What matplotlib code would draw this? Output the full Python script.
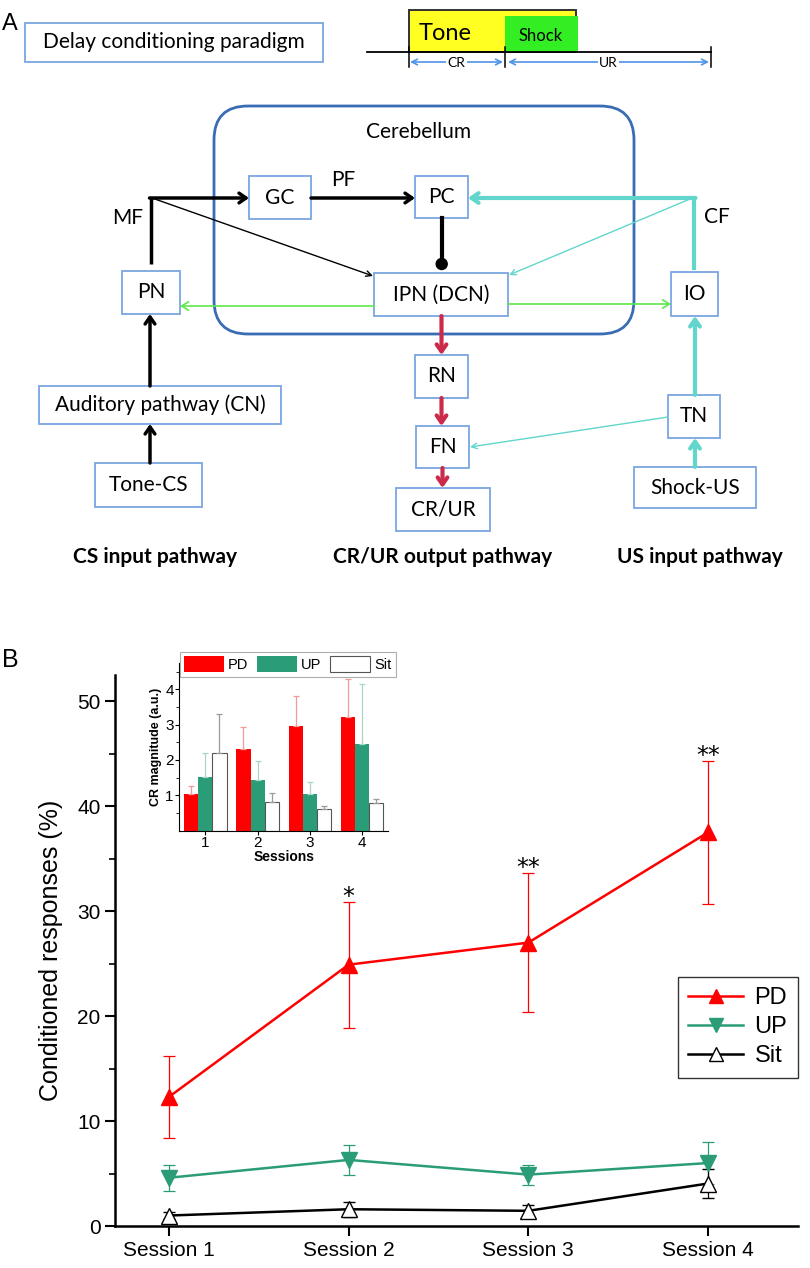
import matplotlib
matplotlib.use('Agg')
import matplotlib.pyplot as plt
from matplotlib.patches import FancyBboxPatch, Rectangle, Circle
from matplotlib.lines import Line2D

# ---- panel B data ----
sessions = [1, 2, 3, 4]
session_labels = ['Session 1', 'Session 2', 'Session 3', 'Session 4']
pd_mean = [12.3, 24.9, 27.0, 37.5]
pd_err = [3.9, 6.0, 6.6, 6.8]
up_mean = [4.6, 6.3, 4.9, 6.0]
up_err = [1.25, 1.4, 0.95, 2.0]
sit_mean = [1.0, 1.6, 1.45, 4.05]
sit_err = [0.3, 0.7, 0.55, 1.4]
stars = ['', '*', '**', '**']

# inset: CR magnitude
inset_pd = [1.04, 2.30, 2.95, 3.21]
inset_pd_err = [0.22, 0.62, 0.87, 1.07]
inset_up = [1.52, 1.44, 1.04, 2.46]
inset_up_err = [0.68, 0.54, 0.35, 1.68]
inset_sit = [2.19, 0.82, 0.62, 0.77]
inset_sit_err = [1.10, 0.26, 0.07, 0.13]

RED = '#ff0000'
GREEN = '#2a9d78'
BOXC = '#7aa6df'
CYAN = '#62d6cc'
LGREEN = '#5ee84a'
CRIMSON = '#cc2a4a'
DFONT = 'Lato'

fig = plt.figure(figsize=(8.1, 12.68), dpi=100)

# ---- panel A: diagram drawn in pixel coordinates ----
dg = fig.add_axes([0, 0, 1, 1])
dg.set_xlim(0, 810)
dg.set_ylim(1268, 0)
dg.axis('off')


def box(x0, y0, x1, y1, text, size=15):
    dg.add_patch(Rectangle((x0, y0), x1 - x0, y1 - y0, fill=False,
                           edgecolor=BOXC, lw=1.3))
    dg.text((x0 + x1) / 2, (y0 + y1) / 2, text, ha='center', va='center',
            fontsize=size, family=DFONT)


def arrow(p0, p1, color='black', lw=2.5, head='0.5', width='0.35'):
    dg.annotate('', xy=p1, xytext=p0,
                arrowprops=dict(arrowstyle=f'->,head_length={head},head_width={width}',
                                color=color, lw=lw, shrinkA=0, shrinkB=0))


dg.text(2, 24, 'A', fontsize=17, family='Liberation Sans', va='center')
dg.text(2, 660, 'B', fontsize=18, family='Liberation Sans', va='center')

box(25, 23, 323, 62, 'Delay conditioning paradigm', 15)

# timeline
dg.add_patch(Rectangle((408.6, 10), 167, 42, facecolor='#ffff22',
                       edgecolor='#333333', lw=1.4))
dg.add_patch(Rectangle((505, 16), 73, 36, facecolor='#33ee22', edgecolor='none'))
dg.plot([367, 711], [52, 52], color='black', lw=1.3)
for tx in [408.6, 505, 711]:
    dg.plot([tx, tx], [47, 67], color='black', lw=1.1)
dg.text(445, 33, 'Tone', fontsize=17, family=DFONT, ha='center', va='center')
dg.text(541, 36, 'Shock', fontsize=12, family=DFONT, ha='center', va='center')
for (a, b, lab) in [(410, 503, 'CR'), (508, 709, 'UR')]:
    dg.annotate('', xy=(b, 62), xytext=(a, 62),
                arrowprops=dict(arrowstyle='<->,head_length=0.4,head_width=0.2',
                                color='#4f93e6', lw=1.2, shrinkA=0, shrinkB=0))
    dg.text((a + b) / 2, 63, lab, fontsize=10, family=DFONT, ha='center',
            va='center', bbox=dict(facecolor='white', edgecolor='none', pad=1))

# cerebellum
dg.add_patch(FancyBboxPatch((214, 106), 420, 228,
                            boxstyle='round,pad=0,rounding_size=34',
                            fill=False, edgecolor='#3a6bb5', lw=2))
dg.text(419, 132, 'Cerebellum', fontsize=15, family=DFONT, ha='center', va='center')

box(249, 176, 311, 219, 'GC')
box(415, 176, 468, 218, 'PC')
box(122, 271, 180, 314, 'PN')
box(374, 273, 508, 316, 'IPN (DCN)')
box(671, 272, 718, 316, 'IO')
box(415, 355, 468, 398, 'RN')
box(416, 426, 469, 468, 'FN')
box(396, 488, 490, 531, 'CR/UR')
box(668, 395, 720, 438, 'TN')
box(634, 467, 756, 508, 'Shock-US')
box(39, 386, 281, 424, 'Auditory pathway (CN)')
box(95, 463, 202, 507, 'Tone-CS')

dg.text(128, 218, 'MF', fontsize=15, family=DFONT, ha='center', va='center')
dg.text(343, 180, 'PF', fontsize=15, family=DFONT, ha='center', va='center')
dg.text(717, 217, 'CF', fontsize=15, family=DFONT, ha='center', va='center')

# mossy fibres
dg.plot([150.7, 150.7], [264, 198], color='black', lw=2.5, solid_capstyle='butt')
arrow((149.5, 198), (249, 198))
arrow((152, 198), (373, 276), lw=1, head='0.4', width='0.2')
arrow((311, 198), (415, 198))
# PC inhibition
dg.plot([441.7, 441.7], [218, 262], color='black', lw=3)
dg.add_patch(Circle((441.7, 264), 5.5, color='black'))
# climbing fibres
dg.plot([694, 694], [268, 198], color=CYAN, lw=3)
arrow((695.5, 198), (468, 198), color=CYAN, lw=3)
arrow((690, 199), (509, 275), color=CYAN, lw=1, head='0.4', width='0.2')
# nucleo-olivary / pontine green
arrow((374, 306), (180, 306), color=LGREEN, lw=1.2, head='0.5', width='0.3')
arrow((508, 304), (671, 304), color=LGREEN, lw=1.2, head='0.5', width='0.3')
# output pathway
arrow((441.5, 316), (441.5, 355), color=CRIMSON, lw=3)
arrow((441.5, 398), (441.5, 426), color=CRIMSON, lw=3)
arrow((442.5, 468), (442.5, 488), color=CRIMSON, lw=3)
# US input
arrow((695, 467), (695, 438), color=CYAN, lw=3)
arrow((695, 395), (695, 316), color=CYAN, lw=3)
arrow((668, 417), (470, 447), color=CYAN, lw=1, head='0.4', width='0.2')
# CS input
arrow((150, 386), (150, 314))
arrow((150, 463), (150, 424))

for (lx, lab) in [(155, 'CS input pathway'), (443, 'CR/UR output pathway'),
                  (700, 'US input pathway')]:
    dg.text(lx, 557, lab, fontsize=15, family=DFONT, fontweight='bold',
            ha='center', va='center')

# ---- panel B main axes ----
ax = fig.add_axes([0.142, 0.0331, 0.843, 0.4346])
ax.errorbar(sessions, pd_mean, yerr=pd_err, color=RED, marker='^', ms=11,
            lw=1.8, elinewidth=0.9, capsize=4.5, capthick=0.9)
ax.errorbar(sessions, up_mean, yerr=up_err, color=GREEN, marker='v', ms=11,
            lw=1.8, elinewidth=0.9, capsize=4.5, capthick=0.9)
ax.errorbar(sessions, sit_mean, yerr=sit_err, color='black', marker='^', ms=11,
            mfc='white', mec='black', mew=1.0, lw=1.8, elinewidth=0.9,
            capsize=4.5, capthick=0.9)
for s, m, e, st in zip(sessions, pd_mean, pd_err, stars):
    if st:
        ax.text(s, m + e - 0.2, st, ha='center', va='baseline', fontsize=17,
                family='DejaVu Sans')

ax.set_xlim(0.7, 4.5)
ax.set_ylim(0, 52.5)
ax.set_xticks(sessions)
ax.set_xticklabels(session_labels)
ax.set_yticks([0, 10, 20, 30, 40, 50])
ax.set_yticks([5, 15, 25, 35, 45], minor=True)
ax.set_ylabel('Conditioned responses (%)', fontsize=18, family='Liberation Sans',
              labelpad=10)
for sp in ['top', 'right']:
    ax.spines[sp].set_visible(False)
for sp in ['left', 'bottom']:
    ax.spines[sp].set_linewidth(1.8)
ax.tick_params(axis='both', which='major', direction='out', length=7, width=1.5,
               labelsize=15)
ax.tick_params(axis='y', which='minor', direction='out', length=4, width=1.2)
for lab in ax.get_xticklabels() + ax.get_yticklabels():
    lab.set_family('Liberation Sans')

handles = [Line2D([], [], color=RED, marker='^', ms=10, lw=1.8),
           Line2D([], [], color=GREEN, marker='v', ms=10, lw=1.8),
           Line2D([], [], color='black', marker='^', ms=10, lw=1.8,
                  mfc='white', mec='black', mew=1.0)]
leg = ax.legend(handles, ['PD', 'UP', 'Sit'], loc='lower right',
                bbox_to_anchor=(1.0, 0.2686), borderaxespad=0, frameon=True,
                fancybox=False, edgecolor='black', handlelength=2.3,
                handletextpad=0.5, borderpad=0.45, labelspacing=0.3,
                prop={'family': 'Liberation Sans', 'size': 17})
leg.get_frame().set_linewidth(1.0)

# ---- inset ----
ins = fig.add_axes([179.3 / 810, 1 - 830.7 / 1268, 208.7 / 810, 168 / 1268])
w = 0.27
xr = [s - w for s in sessions]
xw = [s + w for s in sessions]
ins.bar(xr, inset_pd, width=w, color=RED, label='PD')
ins.bar(sessions, inset_up, width=w, color=GREEN, label='UP')
ins.bar(xw, inset_sit, width=w, color='white', edgecolor='#555555', lw=0.8,
        label='Sit')
for xs, vals, errs, ec in [(xr, inset_pd, inset_pd_err, '#f29a9a'),
                           (sessions, inset_up, inset_up_err, '#a9d6cb'),
                           (xw, inset_sit, inset_sit_err, '#9a9a9a')]:
    ins.errorbar(xs, vals, yerr=[[0] * 4, errs], fmt='none', ecolor=ec,
                 elinewidth=0.9, capsize=2, capthick=0.9)
ins.set_xlim(0.5, 4.5)
ins.set_ylim(0, 4.75)
ins.set_xticks(sessions)
ins.set_yticks([1, 2, 3, 4])
ins.set_yticks([0.5, 1.5, 2.5, 3.5, 4.5], minor=True)
ins.tick_params(axis='both', which='major', direction='out', length=3, width=0.8,
                labelsize=11, pad=1)
ins.tick_params(axis='y', which='minor', direction='out', length=2, width=0.6)
for lab in ins.get_xticklabels() + ins.get_yticklabels():
    lab.set_family('Liberation Sans')
for sp in ['top', 'right']:
    ins.spines[sp].set_visible(False)
ins.set_ylabel('CR magnitude (a.u.)', fontsize=9, fontweight='bold',
               family='Liberation Sans', labelpad=2)
ins.set_xlabel('Sessions', fontsize=10, fontweight='bold',
               family='Liberation Sans', labelpad=0)
ileg = ins.legend(loc='center', bbox_to_anchor=(0.52, 0.99), ncol=3,
                  frameon=True, fancybox=False, edgecolor='#999999',
                  handlelength=2.7, handleheight=1.3, columnspacing=0.6,
                  handletextpad=0.3, borderpad=0.3,
                  prop={'family': 'Liberation Sans', 'size': 10.5})
ileg.get_frame().set_linewidth(0.8)

fig.savefig('out.png', dpi=100)
